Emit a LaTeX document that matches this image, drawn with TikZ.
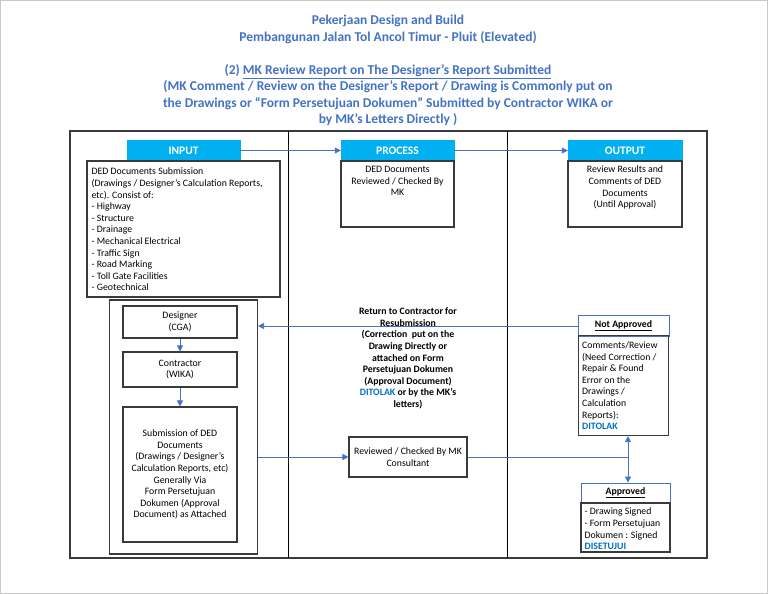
\documentclass[tikz,border=0pt]{standalone}
\usepackage{fontspec}
\setmainfont{Carlito}
\usetikzlibrary{arrows.meta}
\definecolor{titleblue}{HTML}{4472C4}
\definecolor{arrowblue}{HTML}{4472C4}
\definecolor{headcyan}{HTML}{00B0F0}
\definecolor{tagblue}{HTML}{0070C0}
\definecolor{boxgray}{HTML}{3A3A3A}
\definecolor{framegray}{HTML}{C8C8C8}
\begin{document}
\begin{tikzpicture}[x=1pt,y=-1pt,
  titletext/.style={align=center, text=titleblue, font=\fontsize{13.5}{16.4}\selectfont\bfseries, inner sep=0},
  headbox/.style={fill=headcyan, draw=headcyan, text=white, font=\fontsize{11.5}{13}\selectfont\bfseries, inner sep=0, minimum height=21},
  bodybox/.style={draw=boxgray, line width=1.1pt, inner sep=0},
  btext/.style={font=\fontsize{9.8}{11.6}\selectfont, inner sep=0},
  subhead/.style={draw=arrowblue, line width=0.8pt, inner sep=0, font=\fontsize{9.8}{11.6}\selectfont\bfseries},
  arr/.style={draw=arrowblue, line width=0.8pt, -{Triangle[length=6pt,width=6pt]}},
  conn/.style={draw=arrowblue, line width=0.8pt},
  tag/.style={text=tagblue, font=\bfseries}
]
\useasboundingbox (0,0) rectangle (768,594);
\draw[framegray, line width=1pt] (0.5,0.5) rectangle (767.5,593.5);

% titles
\node[titletext] (t1) at (388,29.5) {Pekerjaan Design and Build\\Pembangunan Jalan Tol Ancol Timur - Pluit (Elevated)};
\node[titletext] (t2) at (388,95) {(2) \underline{MK Review Report on The Designer’s Report Submitted}\\(MK Comment / Review on the Designer’s Report / Drawing is Commonly put on\\the Drawings or “Form Persetujuan Dokumen” Submitted by Contractor WIKA or\\by MK’s Letters Directly )};

% frame and columns
\node[bodybox, line width=1.2pt, minimum width=637, minimum height=427] (frame) at (388.5,344.5) {};
\coordinate (c1t) at (288,131); \coordinate (c1b) at (288,558);
\coordinate (c2t) at (507,131); \coordinate (c2b) at (507,558);
\draw[black, line width=1pt] (c1t) -- (c1b);
\draw[black, line width=1pt] (c2t) -- (c2b);

% headers
\node[headbox, minimum width=113] (inhead) at (183.5,150.5) {INPUT};
\node[headbox, minimum width=113] (prochead) at (397.5,150.5) {PROCESS};
\node[headbox, minimum width=114] (outhead) at (625,150.5) {OUTPUT};

% bodies
\node[bodybox, minimum width=193, minimum height=136] (inbody) at (183.5,229) {};
\node[btext, anchor=west, align=left] (intext) at ([xshift=5,yshift=-0.5]inbody.west) {DED Documents Submission\\(Drawings / Designer’s Calculation Reports,\\etc). Consist of:\\- Highway\\- Structure\\- Drainage\\- Mechanical Electrical\\- Traffic Sign\\- Road Marking\\- Toll Gate Facilities\\- Geotechnical};

\node[bodybox, minimum width=113, minimum height=66] (procbody) at (397.5,194) {};
\node[btext, anchor=north, align=center] (proctext) at ([yshift=-5.5]procbody.north) {DED Documents\\Reviewed / Checked By\\MK};

\node[bodybox, minimum width=114, minimum height=66] (outbody) at (625,194) {};
\node[btext, anchor=north, align=center] (outtext) at ([yshift=-5.5]outbody.north) {Review Results and\\Comments of DED\\Documents\\(Until Approval)};

\draw[arr] (inhead.east) -- (prochead.west);
\draw[arr] (prochead.east) -- (outhead.west);

% left group
\node[bodybox, minimum width=148, minimum height=254] (group) at (183.5,427) {};
\node[bodybox, minimum width=114, minimum height=32, btext, align=center] (designer) at (180,322) {Designer\\(CGA)};
\node[bodybox, minimum width=114, minimum height=35, btext, align=center] (contractor) at (180,369.5) {Contractor\\(WIKA)};
\node[bodybox, minimum width=114, minimum height=135, btext, align=center] (submission) at (180,474.5) {Submission of DED\\Documents\\(Drawings / Designer’s\\Calculation Reports, etc)\\Generally Via\\Form Persetujuan\\Dokumen (Approval\\Document) as Attached};
\draw[arr] (designer.south) -- (contractor.north);
\draw[arr] (contractor.south) -- (submission.north);

% reviewed
\node[bodybox, minimum width=118, minimum height=40, btext, align=center] (reviewed) at (408,457) {Reviewed / Checked By MK\\Consultant};
\draw[arr] (reviewed.west -| group.east) -- (reviewed.west);

% not approved
\node[subhead, minimum width=91, minimum height=21] (nahead) at (623.5,326) {\underline{Not Approved}};
\node[bodybox, minimum width=90, minimum height=100] (nabody) at (623.5,385.5) {};
\node[btext, anchor=north west, align=left] (natext) at ([xshift=4,yshift=-6.5]nabody.north west) {Comments/Review\\(Need Correction /\\Repair \& Found\\Error on the\\Drawings /\\Calculation\\Reports):\\{\color{tagblue}\bfseries DITOLAK}};

% approved
\node[subhead, minimum width=89, minimum height=20] (aphead) at (625.5,493) {\underline{Approved}};
\node[bodybox, minimum width=89, minimum height=49] (apbody) at (625.5,527.5) {};
\node[btext, anchor=north west, align=left] (aptext) at ([xshift=4,yshift=-5.5]apbody.north west) {- Drawing Signed\\- Form Persetujuan\\Dokumen : Signed\\{\color{tagblue}\bfseries DISETUJUI}};

% connectors
\coordinate (junc) at (628,457);
\draw[conn] (reviewed.east) -- (junc);
\draw[arr] (junc) -- (junc |- nabody.south);
\draw[arr] (junc) -- (junc |- aphead.north);
\draw[arr] (nahead.west) -- (nahead.west -| group.east);

\node[btext, font=\fontsize{9.8}{11.6}\selectfont\bfseries, align=center] (retlabel) at (408,358.5) {Return to Contractor for\\Resubmission\\(Correction\ \ put on the\\Drawing Directly or\\attached on Form\\Persetujuan Dokumen\\(Approval Document)\\{\color{tagblue}DITOLAK} or by the MK’s\\letters)};
\end{tikzpicture}
\end{document}
